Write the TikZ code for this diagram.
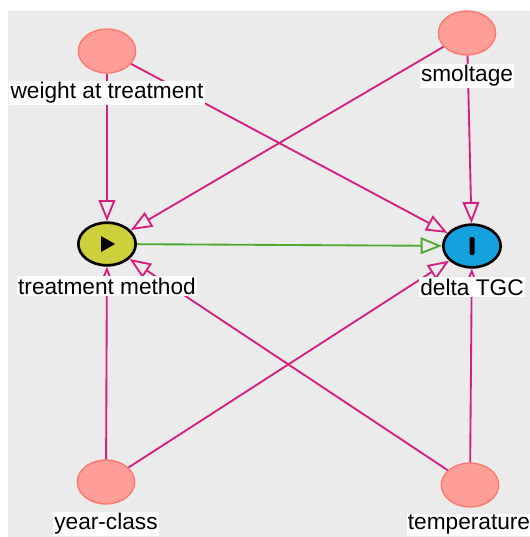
\documentclass[tikz,border=0pt]{standalone}
\usepackage{fontspec}
\setmainfont{Liberation Sans}
\usetikzlibrary{arrows.meta,shapes.geometric}
\definecolor{bggray}{RGB}{235,235,235}
\definecolor{pinkfill}{RGB}{255,158,150}
\definecolor{pinkline}{RGB}{255,120,110}
\definecolor{edgemag}{RGB}{214,32,128}
\definecolor{edgegreen}{RGB}{80,170,50}
\definecolor{expfill}{RGB}{205,208,58}
\definecolor{outfill}{RGB}{20,162,222}
\tikzset{
  var/.style={ellipse, draw=pinkline, fill=pinkfill, line width=1pt, minimum width=43pt, minimum height=33pt, inner sep=0pt},
  keyvar/.style={ellipse, draw=black, line width=2pt, minimum width=43pt, minimum height=32pt, inner sep=0pt},
  lab/.style={fill=white, inner sep=1pt, font=\fontsize{17}{19}\selectfont},
  causal/.style={draw=edgemag, line width=1.4pt, -{Triangle[open, length=16pt, width=12.5pt]}},
  effect/.style={draw=edgegreen, line width=1.4pt, -{Triangle[open, length=16pt, width=12.5pt]}}
}
\begin{document}
\begin{tikzpicture}[x=0.75pt, y=-0.75pt]
  \useasboundingbox (0,0) rectangle (530,537);
  \fill[white] (0,0) rectangle (530,537);
  \fill[bggray] (8,11) rectangle (530,537);
  % variables
  \node[var] (weight) at (107,51) {};
  \node[var] (smolt) at (467,33) {};
  \node[keyvar, fill=expfill] (treat) at (107,244) {};
  \node[keyvar, fill=outfill] (tgc) at (472,246) {};
  \node[var] (year) at (106,482) {};
  \node[var] (temp) at (470,485) {};
  \fill (treat.center) ++(-6,-8) -- ++(14,8) -- ++(-14,8) -- cycle;
  \fill[rounded corners=1pt] (tgc.center) ++(-2.5,-9) rectangle ++(5,18);
  % arrows
  \draw[causal] (weight) -- (treat);
  \draw[causal] (weight) -- (tgc);
  \draw[causal] (smolt) -- (treat);
  \draw[causal] (smolt) -- (tgc);
  \draw[causal] (year) -- (treat);
  \draw[causal] (year) -- (tgc);
  \draw[causal] (temp) -- (treat);
  \draw[causal] (temp) -- (tgc);
  \draw[effect] (treat) -- (tgc);
  % labels
  \node[lab] (weightlab) at (107,93) {weight at treatment};
  \node[lab] (smoltlab) at (467,76) {smoltage};
  \node[lab] (treatlab) at (107,286) {treatment method};
  \node[lab] (tgclab) at (472,287) {delta TGC};
  \node[lab] (yearlab) at (106,524) {year-class};
  \node[lab] (templab) at (469,525) {temperature};
\end{tikzpicture}
\end{document}
